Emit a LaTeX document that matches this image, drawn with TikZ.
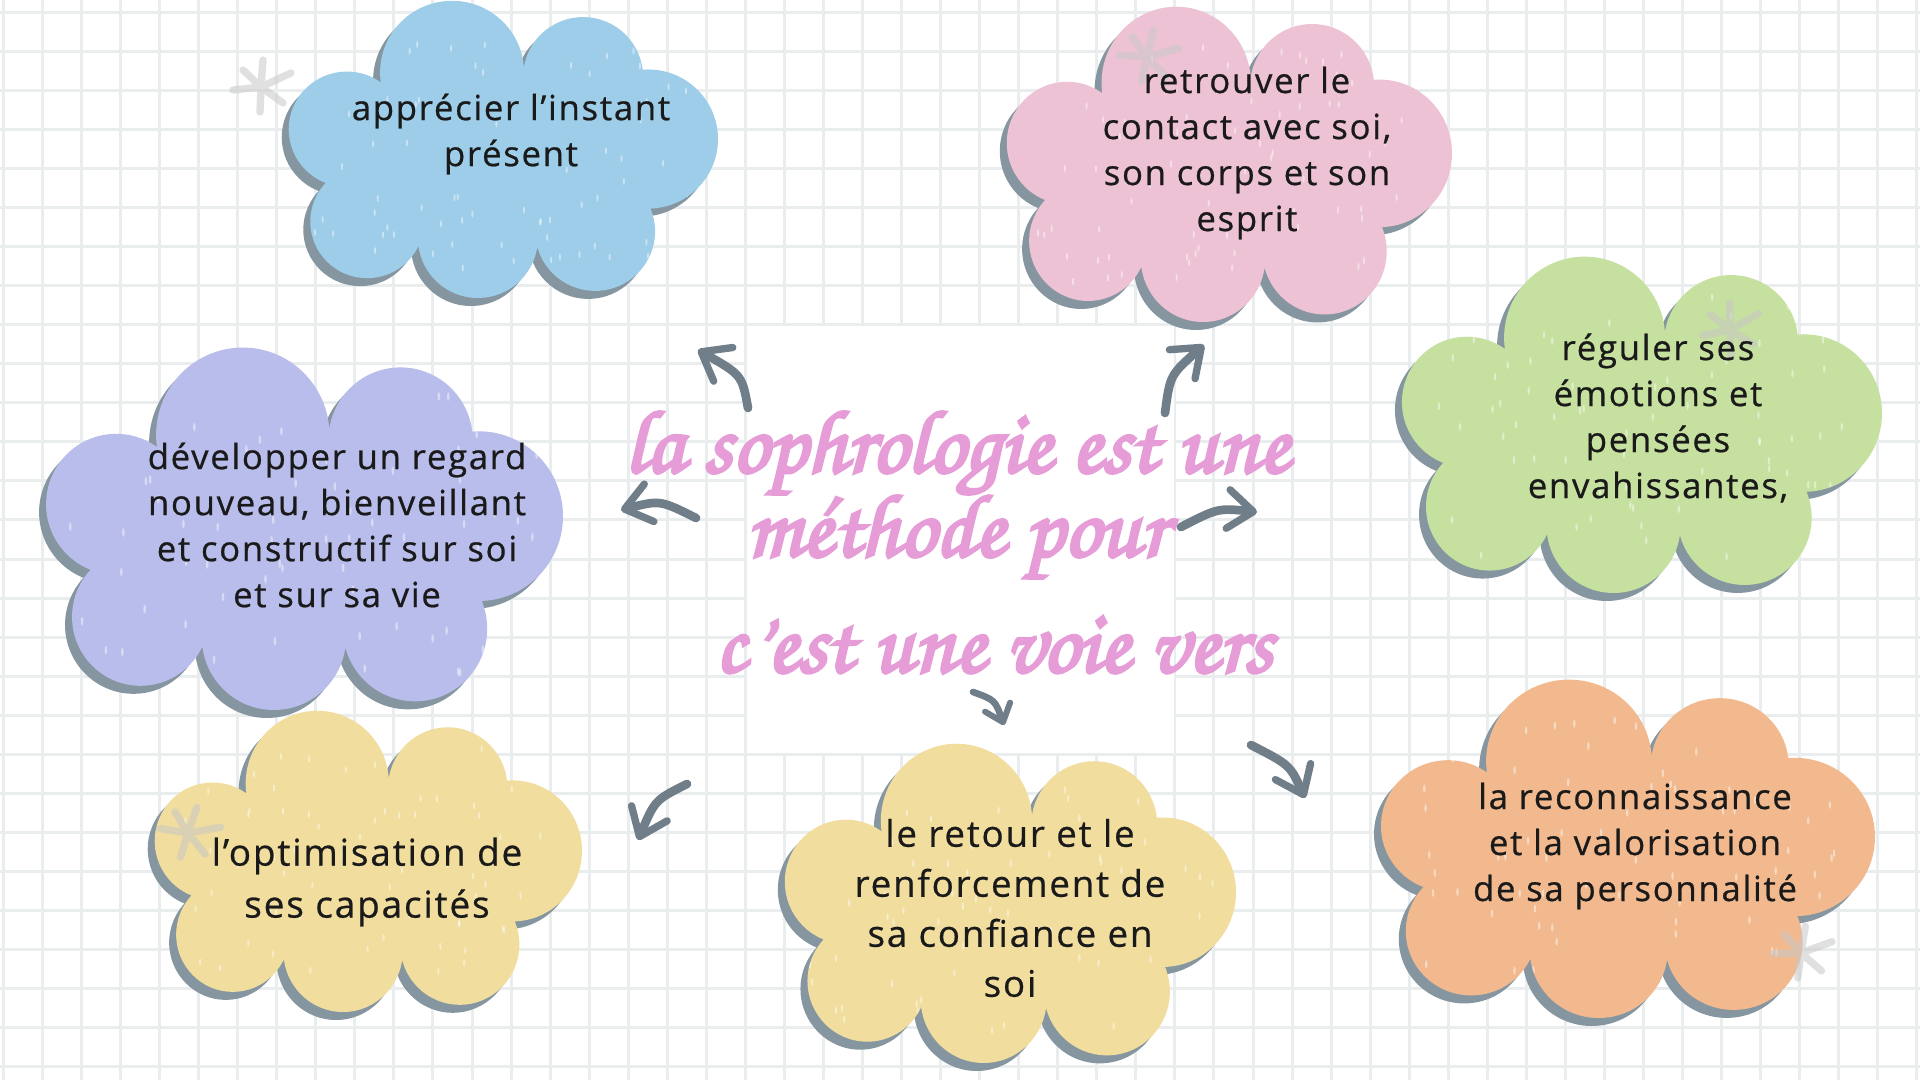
\documentclass[tikz,border=0pt]{standalone}
\usepackage{fontspec}
\usetikzlibrary{arrows.meta}

\newfontfamily\handfont{Open Sans}[LetterSpace=5,FakeBold=0.6]
\newfontfamily\titlefont{texgyrechorus-mediumitalic.otf}[FakeBold=3.5]
\newcommand{\titlesetup}{\titlefont\fontsize{67}{63}\selectfont\setlength{\lineskiplimit}{-100pt}}

\definecolor{gridcol}{RGB}{233,237,238}
\definecolor{shadowcol}{RGB}{134,150,160}
\definecolor{arrowcol}{RGB}{111,126,137}
\definecolor{pinktxt}{RGB}{229,156,215}
\definecolor{inkcol}{RGB}{26,26,26}
\definecolor{stargray}{RGB}{200,200,200}
\definecolor{bluecloud}{RGB}{157,205,232}
\definecolor{pinkcloud}{RGB}{237,194,212}
\definecolor{greencloud}{RGB}{198,224,160}
\definecolor{purplecloud}{RGB}{185,189,236}
\definecolor{yellowcloud}{RGB}{241,222,158}
\definecolor{orangecloud}{RGB}{242,185,143}

\tikzset{every picture/.style={line width=0.75pt}}
\tikzset{
  gridline/.style={draw=gridcol, line width=2.25pt},
  cloudtext/.style={font=\handfont\fontsize{26}{34.5}\selectfont, text=inkcol, align=center},
  titre/.style={font=\titlesetup, text=pinktxt},
  fleche/.style={draw=arrowcol, line width=6.5pt, line cap=round, -{Straight Barb[round,length=19pt,width=29pt,line width=5.5pt]}},
  flechepetite/.style={draw=arrowcol, line width=5pt, line cap=round, -{Straight Barb[round,length=12pt,width=20pt,line width=4.5pt]}},
  etoile/.style={draw=stargray, line width=5.5pt, line cap=round, opacity=0.55},
  grain/.style={fill=white, opacity=0.45}
}

% one cloud in a unit box
\newcommand{\cloudlobes}{(0.383,0.238) ellipse [x radius=0.167, y radius=0.242]
  (0.687,0.252) ellipse [x radius=0.139, y radius=0.201]
  (0.838,0.463) ellipse [x radius=0.162, y radius=0.235]
  (0.715,0.775) ellipse [x radius=0.139, y radius=0.201]
  (0.443,0.799) ellipse [x radius=0.139, y radius=0.201]
  (0.186,0.742) ellipse [x radius=0.132, y radius=0.191]
  (0.139,0.430) ellipse [x radius=0.135, y radius=0.195]
  (0.47,0.52) ellipse [x radius=0.33, y radius=0.30]}

% x, y, width, height, colour
\newcommand{\drawcloud}[5]{%
  \begin{scope}[shift={(#1-7,#2+8)},xscale=#3,yscale=#4]
    \fill[shadowcol] \cloudlobes;
  \end{scope}
  \begin{scope}[shift={(#1,#2)},xscale=#3,yscale=#4]
    \fill[#5] \cloudlobes;
    \clip \cloudlobes;
    \foreach \k in {1,...,70}
      \fill[grain] ({0.05+0.9*rnd},{0.1+0.8*rnd}) ellipse [x radius=0.0025, y radius=0.012];
  \end{scope}}

% x, y, rotation
\newcommand{\drawstar}[3]{%
  \begin{scope}[shift={(#1,#2)},rotate=#3]
    \draw[etoile] (0,0) -- (2,-27) (0,0) -- (-1,25) (0,0) -- (30,-14)
      (0,0) -- (-28,3) (0,0) -- (22,16) (0,0) -- (-18,-17);
  \end{scope}}

\begin{document}
\begin{tikzpicture}[x=0.75pt,y=0.75pt,yscale=-1,xscale=1]
\useasboundingbox (0,0) rectangle (1920,1080);
\pgfmathsetseed{17}

% squared paper
\fill[white] (0,0) rectangle (1920,1080);
\foreach \i in {0,...,49} \draw[gridline] ({3.4+39.05*\i},0) -- ({3.4+39.05*\i},1080);
\foreach \j in {0,...,27} \draw[gridline] (0,{12.3+39.05*\j}) -- (1920,{12.3+39.05*\j});
\fill[white] (747,326.5) rectangle (1173.5,752.5);

% clouds
\drawcloud{287}{2}{431}{296}{bluecloud}
\drawcloud{1005}{8}{447}{314}{pinkcloud}
\drawcloud{1400}{258}{482}{335}{greencloud}
\drawcloud{44}{349}{519}{361}{purplecloud}
\drawcloud{153}{712}{429}{300}{yellowcloud}
\drawcloud{783}{745}{453}{318}{yellowcloud}
\drawcloud{1379}{681}{496}{337}{orangecloud}

% little stars
\drawstar{261}{87}{0}
\drawstar{1147}{57}{10}
\drawstar{1730}{330}{-5}
\drawstar{188}{833}{15}
\drawstar{1801}{953}{5}

% centre text
\node[titre, align=center] (titre) at (957,495) {la sophrologie est une\\méthode pour};
\node[titre, anchor=base] (voie) at (994,672) {c’est une voie vers};

% cloud texts
\node[cloudtext] (instant) at (511,134) {apprécier l’instant\\présent};
\node[cloudtext] (contact) at (1247,153) {retrouver le\\contact avec soi,\\son corps et son\\esprit};
\node[cloudtext] (emotions) at (1658,418) {réguler ses\\émotions et\\pensées\\envahissantes,};
\node[cloudtext] (regard) at (337,525) {développer un regard\\nouveau, bienveillant\\et constructif sur soi\\et sur sa vie};
\node[cloudtext, font=\handfont\fontsize{27.7}{39}\selectfont] (capacites) at (367,882) {l’optimisation de\\ses capacités};
\node[cloudtext, font=\handfont\fontsize{27.5}{37.5}\selectfont] (confiance) at (1010,908) {le retour et le\\renforcement de\\sa confiance en\\soi};
\node[cloudtext] (perso) at (1635,846) {la reconnaissance\\et la valorisation\\de sa personnalité};

% arrow ends
\coordinate (a1) at (748,408); \coordinate (a2) at (698,350);
\coordinate (b1) at (1165,413); \coordinate (b2) at (1204,345);
\coordinate (c1) at (696,518); \coordinate (c2) at (621,510);
\coordinate (d1) at (1181,527); \coordinate (d2) at (1257,512);
\coordinate (e1) at (687,784); \coordinate (e2) at (638,840);
\coordinate (f1) at (973,692); \coordinate (f2) at (1004,725);
\coordinate (g1) at (1251,745); \coordinate (g2) at (1305,798);

\draw[fleche] (a1) .. controls (742,375) .. (a2);
\draw[fleche] (b1) .. controls (1170,375) .. (b2);
\draw[fleche] (c1) .. controls (660,500) .. (c2);
\draw[fleche] (d1) .. controls (1218,508) .. (d2);
\draw[fleche] (e1) .. controls (655,800) .. (e2);
\draw[flechepetite] (f1) .. controls (995,700) .. (f2);
\draw[fleche] (g1) .. controls (1290,765) .. (g2);

\end{tikzpicture}
\end{document}
